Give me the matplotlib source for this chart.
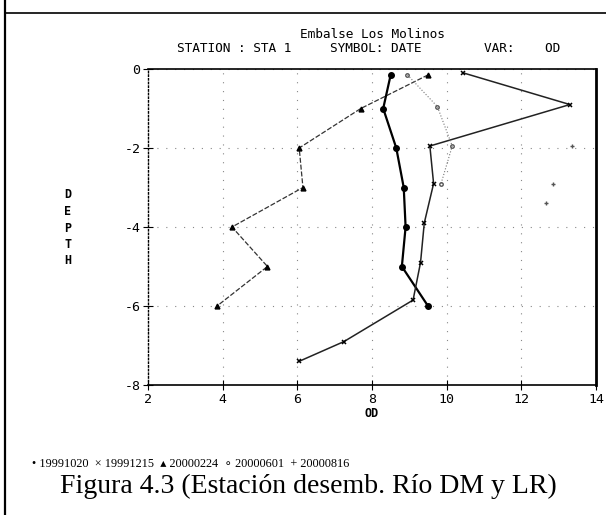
import matplotlib

matplotlib.use("Agg")

import matplotlib.pyplot as plt
from matplotlib.lines import Line2D

# depth profiles of dissolved oxygen (OD), one list per sampling date
depth_a = [-0.15, -1, -2, -3, -4, -5, -6]
od_20000224 = [9.5, 7.7, 6.05, 6.15, 4.25, 5.2, 3.85]

depth_b = [-0.15, -1, -2, -3, -4, -5, -6]
od_19991020 = [8.5, 8.3, 8.65, 8.85, 8.9, 8.8, 9.5]

depth_c = [-0.1, -0.9, -1.95, -2.9, -3.9, -4.9, -5.85, -6.9, -7.4]
od_19991215 = [10.45, 13.3, 9.55, 9.65, 9.4, 9.3, 9.1, 7.25, 6.05]

depth_d = [-0.15, -0.95, -1.95, -2.9]
od_20000601 = [8.95, 9.75, 10.15, 9.85]

depth_e = [-1.95, -2.9, -3.4]
od_20000816 = [13.35, 12.85, 12.65]

x_ticks = [2, 4, 6, 8, 10, 12, 14]
y_ticks = [0, -2, -4, -6, -8]
legend_labels = ["19991020", "19991215", "20000224", "20000601", "20000816"]

MONO = "DejaVu Sans Mono"

fig = plt.figure(figsize=(6.06, 5.15), dpi=100, facecolor="white")

# scan frame lines
fig.add_artist(Line2D([5 / 606, 1.0], [1 - 13 / 515] * 2, color="black", lw=1.2))
fig.add_artist(Line2D([5 / 606] * 2, [0.0, 1.0], color="black", lw=1.6))

ax = fig.add_axes([148 / 606, 1 - 385 / 515, 448 / 606, 316 / 515])
ax.set_xlim(2, 14)
ax.set_ylim(-8, 0)

ax.plot(od_20000224, depth_a, color="#333333", lw=0.9, ls=(0, (4, 1.5)),
        marker="^", ms=3.5, mfc="black", mec="black")
ax.plot(od_19991020, depth_b, color="black", lw=1.6,
        marker="o", ms=4, mfc="black", mec="black")
ax.plot(od_19991215, depth_c, color="#222222", lw=1.1,
        marker="x", ms=3.5, mec="black", mew=1.1)
ax.plot(od_20000601, depth_d, color="#777777", lw=0.8, ls=":",
        marker="o", ms=2.5, mfc="none", mec="#555555")
ax.plot(od_20000816, depth_e, ls="none",
        marker="+", ms=3.5, mec="#555555")

ax.set_xticks(x_ticks)
ax.set_yticks(y_ticks)
ax.set_xticklabels([str(v) for v in x_ticks], fontfamily=MONO, fontsize=9.5)
ax.set_yticklabels([str(v) for v in y_ticks], fontfamily=MONO, fontsize=9.5)
ax.tick_params(direction="inout", length=7, width=0.8, pad=2)
ax.grid(True, color="#888888", ls=(0, (1, 7)), lw=0.8)

ax.spines["top"].set_linewidth(1.2)
ax.spines["bottom"].set_linewidth(1.2)
ax.spines["right"].set_linewidth(2.0)
ax.spines["left"].set_linestyle(":")
ax.spines["left"].set_linewidth(1.0)

ax.set_xlabel("OD", fontfamily=MONO, fontsize=8.5, fontweight="bold", labelpad=1)

for i, ch in enumerate("DEPTH"):
    fig.text(68 / 606, 1 - (195 + i * 16.5) / 515, ch, fontfamily=MONO,
             fontsize=8.5, fontweight="bold", ha="center", va="center")

fig.text(372 / 606, 1 - 35 / 515, "Embalse Los Molinos", fontfamily=MONO,
         fontsize=9.2, ha="center", va="center")
fig.text(177 / 606, 1 - 48 / 515, "STATION : STA 1", fontfamily=MONO,
         fontsize=9.2, ha="left", va="center")
fig.text(330 / 606, 1 - 48 / 515, "SYMBOL: DATE", fontfamily=MONO,
         fontsize=9.2, ha="left", va="center")
fig.text(484 / 606, 1 - 48 / 515, "VAR:    OD", fontfamily=MONO,
         fontsize=9.2, ha="left", va="center")

syms = ["\u2022", "\u00d7", "\u25b4", "\u2218", "+"]
leg = "  ".join(f"{s} {lab}" for s, lab in zip(syms, legend_labels))
fig.text(32 / 606, 1 - 464 / 515, leg, fontfamily=["Liberation Serif", "DejaVu Sans"],
         fontsize=8.8, ha="left", va="center")

fig.text(308 / 606, 1 - 486 / 515, "Figura 4.3 (Estación desemb. Río DM y LR)",
         fontfamily="Liberation Serif", fontsize=20, ha="center", va="center")

fig.savefig("out.png", dpi=100, facecolor="white")
